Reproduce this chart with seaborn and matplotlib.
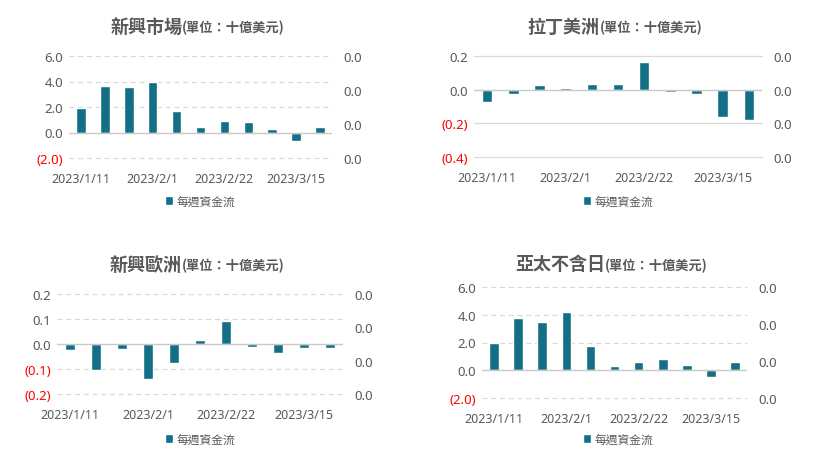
import matplotlib
matplotlib.use('Agg')
import matplotlib.pyplot as plt
import seaborn as sns
from matplotlib.ticker import FuncFormatter

sns.set_style('white')
plt.rcParams['font.family'] = ['Noto Sans CJK TC', 'DejaVu Sans']

dates = ['2023/1/11', '2023/1/18', '2023/1/25', '2023/2/1', '2023/2/8', '2023/2/15',
         '2023/2/22', '2023/3/1', '2023/3/8', '2023/3/15', '2023/3/22']
tick_labels = ['2023/1/11', '2023/2/1', '2023/2/22', '2023/3/15']

em_flow = [1.92, 3.61, 3.53, 4.0, 1.66, 0.42, 0.88, 0.81, 0.26, -0.65, 0.42]
latam_flow = [-0.073, -0.028, 0.026, 0.008, 0.032, 0.032, 0.164, -0.016, -0.028, -0.164, -0.182]
emea_flow = [-0.022, -0.102, -0.018, -0.138, -0.074, 0.017, 0.093, -0.011, -0.034, -0.015, -0.015]
apac_flow = [1.97, 3.77, 3.48, 4.2, 1.75, 0.31, 0.6, 0.82, 0.38, -0.48, 0.6]

titles = ['新興市場', '拉丁美洲', '新興歐洲', '亞太不含日']
subtitle = '(單位：十億美元)'
legend_label = '每週資金流'

bar_color = '#136F85'
text_gray = '#595959'
grid_gray = '#D9D9D9'
num_font = ['Noto Sans', 'DejaVu Sans']

W, H = 814, 456
fig = plt.figure(figsize=(W / 100, H / 100), dpi=100)

# pixel boxes (left, top, right, bottom) of each plot area
boxes = [(69, 57, 332, 159), (474, 57, 762, 158), (57, 295, 343, 395), (482, 288, 747, 399)]
ylims = [(-2, 6), (-0.4, 0.2), (-0.2, 0.2), (-2, 6)]
ysteps = [2, 0.2, 0.1, 2]
dashed = [True, False, True, True]
flows = [em_flow, latam_flow, emea_flow, apac_flow]
title_y = [27, 27, 265, 265]
legend_pos = [(200, 202), (618, 202), (200, 440), (618, 440)]


def paren_fmt(v, pos):
    if abs(v) < 1e-9:
        return '0.0'
    if v < 0:
        return '({:.1f})'.format(-v)
    return '{:.1f}'.format(v)


axes = []
for i in range(4):
    l, t, r, b = boxes[i]
    ax = fig.add_axes([l / W, 1 - b / H, (r - l) / W, (b - t) / H])
    sns.barplot(x=dates, y=flows[i], ax=ax, color=bar_color, saturation=1, width=0.4)
    ax.set_xlim(-0.5, 10.5)
    lo, hi = ylims[i]
    ax.set_ylim(lo, hi)
    n = int(round((hi - lo) / ysteps[i]))
    ticks = [lo + k * ysteps[i] for k in range(n + 1)]
    ax.set_yticks(ticks)
    ax.yaxis.set_major_formatter(FuncFormatter(paren_fmt))
    ls = (0, (4, 3)) if dashed[i] else '-'
    for tk in ticks:
        if abs(tk) < 1e-9:
            ax.axhline(0, color='#C8C8C8', lw=1, zorder=1)
        else:
            ax.axhline(tk, color=grid_gray, lw=0.9, ls=ls, zorder=0, clip_on=False)
    ax.set_xticks([dates.index(d) for d in tick_labels])
    ax.set_xticklabels(tick_labels)
    ax.tick_params(axis='y', length=0, labelsize=9.5, colors=text_gray, pad=4)
    ax.tick_params(axis='x', length=0, labelsize=9, colors=text_gray, pad=10)
    for tl in ax.get_yticklabels() + ax.get_xticklabels():
        tl.set_family(num_font)
        if tl.get_text().startswith('('):
            tl.set_color('#FF0000')
    for s in ax.spines.values():
        s.set_visible(False)
    ax.set_xlabel('')
    ax.set_ylabel('')

    ax2 = ax.twinx()
    ax2.set_ylim(0, 3)
    ax2.set_yticks([0, 1, 2, 3])
    ax2.set_yticklabels(['0.0'] * 4)
    ax2.tick_params(axis='y', length=0, labelsize=9.5, colors=text_gray, pad=8)
    for tl in ax2.get_yticklabels():
        tl.set_family(num_font)
    for s in ax2.spines.values():
        s.set_visible(False)

    lx, ly = legend_pos[i]
    ax.legend(handles=[ax.containers[0]], labels=[legend_label], loc='center',
              bbox_to_anchor=(lx / W, 1 - ly / H), bbox_transform=fig.transFigure,
              frameon=False, handlelength=0.7, handleheight=0.7, handletextpad=0.3,
              fontsize=8.5, labelcolor=text_gray)
    axes.append(ax)

# two-part titles, centred over each panel
fig.canvas.draw()
renderer = fig.canvas.get_renderer()
for i, ax in enumerate(axes):
    l, t, r, b = boxes[i]
    cx = (l + r) / 2 - 3
    main = fig.text(0, 1 - title_y[i] / H, titles[i], fontsize=13, fontweight='bold',
                    color=text_gray, va='center', ha='left')
    sub = fig.text(0, 1 - (title_y[i] + 1) / H, subtitle, fontsize=9.5, fontweight='bold',
                   color=text_gray, va='center', ha='left')
    w1 = main.get_window_extent(renderer).width
    w2 = sub.get_window_extent(renderer).width
    x0 = cx - (w1 + w2) / 2
    main.set_x(x0 / W)
    sub.set_x((x0 + w1) / W)

fig.savefig('out.png', dpi=100)
